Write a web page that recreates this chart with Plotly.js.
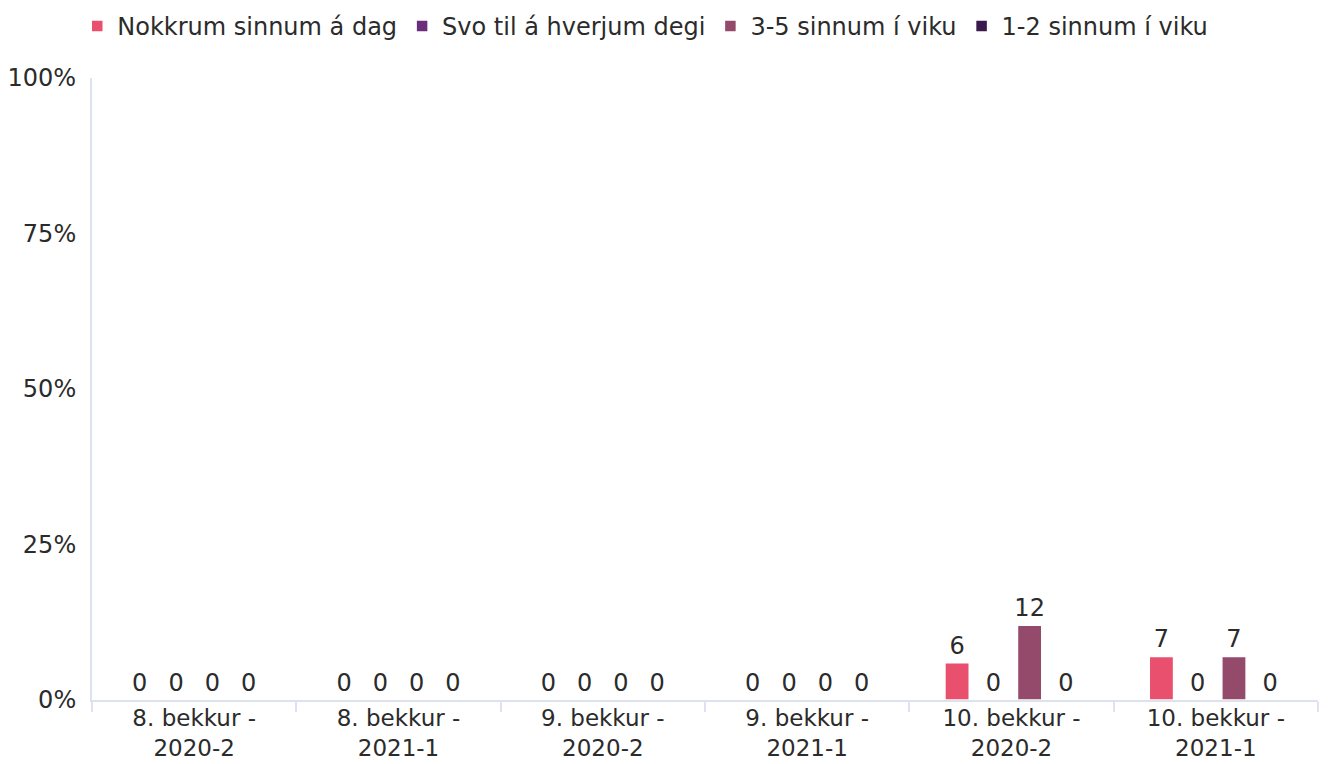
<!DOCTYPE html>
<html><head><meta charset="utf-8">
<script src="https://cdn.plot.ly/plotly-3.0.1.min.js"></script>
<style>html,body{margin:0;padding:0;background:#fff}#c{width:1332px;height:764px}</style>
</head><body><div id="c"></div>
<script>
const categories = ["8. bekkur -<br>2020-2","8. bekkur -<br>2021-1","9. bekkur -<br>2020-2","9. bekkur -<br>2021-1","10. bekkur -<br>2020-2","10. bekkur -<br>2021-1"];
const seriesNames = ["Nokkrum sinnum á dag","Svo til á hverjum degi","3-5 sinnum í viku","1-2 sinnum í viku"];
const nokkrum = [0,0,0,0,6,7];
const svoTil = [0,0,0,0,0,0];
const threeFive = [0,0,0,0,12,7];
const oneTwo = [0,0,0,0,0,0];
const colors = ["#e8506e","#6b2d7b","#944a6a","#3a1a4e"];
const yTicks = [0,25,50,75,100];

const FONT = 'DejaVu Sans, Liberation Sans, Arial, sans-serif';
const series = [nokkrum, svoTil, threeFive, oneTwo];
const traces = series.map((vals,i)=>({
  type:'bar', name:seriesNames[i], x:categories, y:vals,
  marker:{color:colors[i], line:{color:'#ffffff', width:1.5}},
  text:vals.map(v=>String(v)), textposition:'outside', cliponaxis:false, constraintext:'none',
  textfont:{family:FONT, size:24, color:'#2b2b2b'},
  hoverinfo:'none'
}));

const layout = {
  width:1332, height:764,
  margin:{l:92, r:14, t:78, b:64},
  paper_bgcolor:'#ffffff', plot_bgcolor:'#ffffff',
  font:{family:FONT, size:24, color:'#2b2b2b'},
  barmode:'group', bargap:0.29, bargroupgap:0.33,
  showlegend:true,
  legend:{orientation:'h', xref:'container', x:0.058, xanchor:'left', yref:'container', y:0.995, yanchor:'top',
          font:{size:24, color:'#2b2b2b'}, itemwidth:20, tracegroupgap:0},
  xaxis:{type:'category', tickson:'boundaries', ticks:'outside', ticklen:10, tickcolor:'#dde3ee', tickwidth:2,
         showline:true, linecolor:'#dde3ee', linewidth:2, showgrid:false, zeroline:false, ticklabelstandoff:-4,
         tickfont:{size:23, color:'#2b2b2b'}, fixedrange:true},
  yaxis:{range:[0,100], tickvals:yTicks, ticktext:yTicks.map(v=>v+'%'), showgrid:false, zeroline:false,
         showline:true, linecolor:'#dde3ee', linewidth:2, ticks:'', ticklabelstandoff:9,
         tickfont:{size:24, color:'#2b2b2b'}, fixedrange:true}
};
Plotly.newPlot('c', traces, layout, {displayModeBar:false, staticPlot:true});
</script></body></html>
